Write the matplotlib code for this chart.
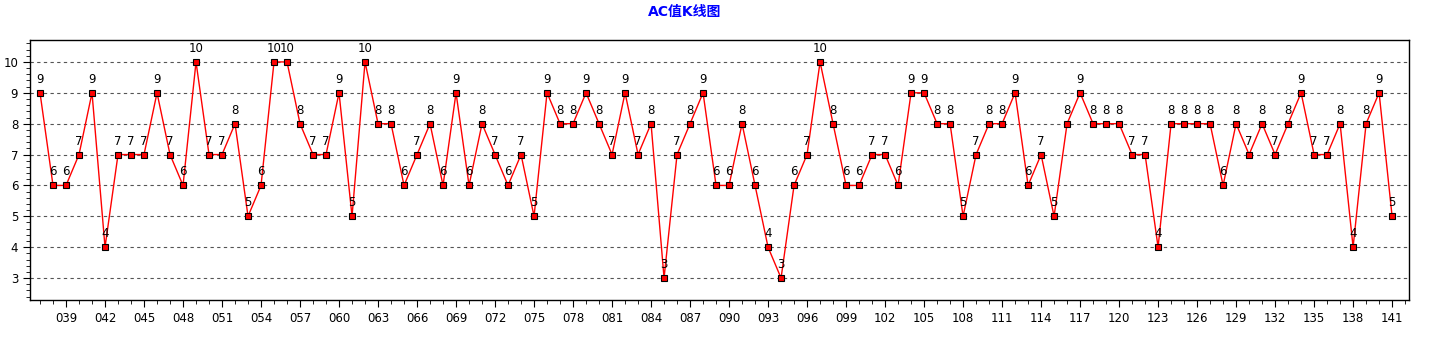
import matplotlib
matplotlib.use("Agg")
import matplotlib.pyplot as plt
from matplotlib.ticker import MultipleLocator, FixedLocator

plt.rcParams['font.family'] = ['DejaVu Sans', 'Noto Sans CJK SC']

# issue numbers 037..141
issues = list(range(37, 142))
ac_values = [
    9, 6, 6, 7, 9, 4, 7, 7, 7, 9, 7, 6, 10, 7, 7, 8, 5, 6, 10, 10,   # 037-056
    8, 7, 7, 9, 5, 10, 8, 8, 6, 7, 8, 6, 9, 6, 8, 7, 6, 7, 5, 9,     # 057-076
    8, 8, 9, 8, 7, 9, 7, 8, 3, 7, 8, 9, 6, 6, 8, 6, 4, 3, 6, 7,      # 077-096
    10, 8, 6, 6, 7, 7, 6, 9, 9, 8, 8, 5, 7, 8, 8, 9, 6, 7, 5, 8,     # 097-116
    9, 8, 8, 8, 7, 7, 4, 8, 8, 8, 8, 6, 8, 7, 8, 7, 8, 9, 7, 7,      # 117-136
    8, 4, 8, 9, 5,                                                   # 137-141
]
label_issues = list(range(39, 142, 3))

fig = plt.figure(figsize=(14.4, 3.5), dpi=100)
ax = fig.add_axes([30 / 1440, 50 / 350, 1379 / 1440, 260 / 350])

ax.plot(issues, ac_values, color='red', linewidth=1, marker='s', markersize=4.5,
        markerfacecolor='red', markeredgecolor='black', markeredgewidth=0.8, zorder=3)

for x, v in zip(issues, ac_values):
    ax.annotate(str(v), (x, v), xytext=(0, 5), textcoords='offset points',
                ha='center', va='bottom', fontsize=8.5, color='black', zorder=4)

ax.set_xlim(36.23, 142.3)
ax.set_ylim(2.29, 10.71)

ax.yaxis.set_major_locator(FixedLocator(range(3, 11)))
ax.yaxis.set_minor_locator(MultipleLocator(0.2))
ax.xaxis.set_major_locator(FixedLocator(label_issues))
ax.xaxis.set_minor_locator(MultipleLocator(1))
ax.set_xticklabels([f"{i:03d}" for i in label_issues])

ax.tick_params(axis='both', which='major', labelsize=8.5, length=5, color='black')
ax.tick_params(axis='both', which='minor', length=3, color='black')

ax.grid(axis='y', which='major', linestyle=(0, (3, 3)), color='#555555', linewidth=0.8)
ax.set_axisbelow(True)

for s in ax.spines.values():
    s.set_color('black')
    s.set_linewidth(1)

fig.suptitle("AC值K线图", x=685 / 1440, y=0.985, fontsize=10, fontweight='bold',
             color='blue', family=['DejaVu Sans', 'Noto Sans CJK SC'])

fig.savefig("out.png", dpi=100)
